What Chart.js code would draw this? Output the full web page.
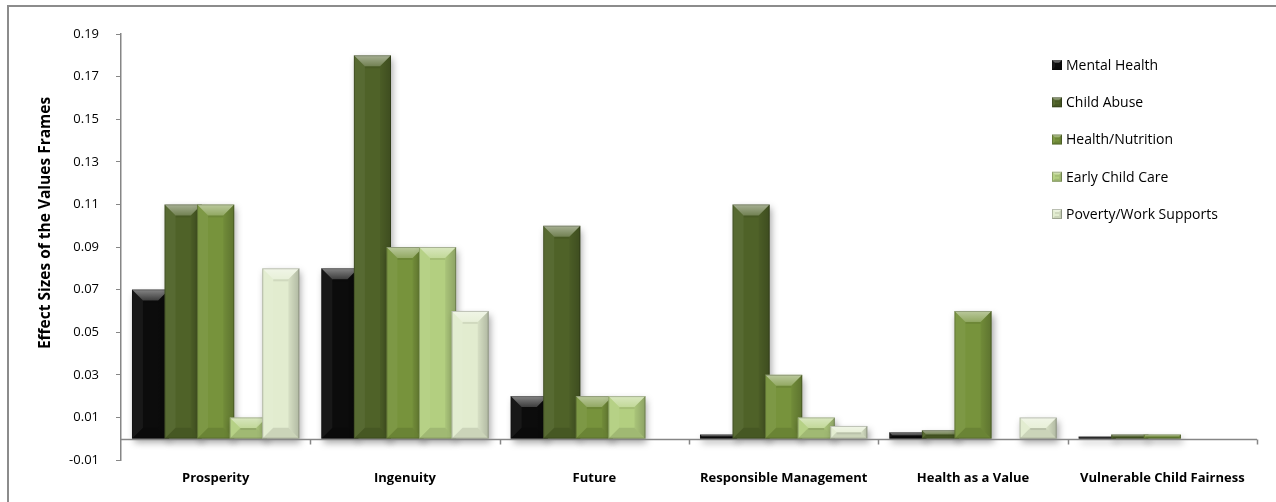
<!DOCTYPE html>
<html>
<head>
<meta charset="utf-8">
<title>Effect Sizes of the Values Frames</title>
<script src="https://cdn.jsdelivr.net/npm/chart.js@4/dist/chart.umd.min.js"></script>
<style>
  html,body{margin:0;padding:0;background:#fff}
  #c{display:block}
</style>
</head>
<body>
<canvas id="c" width="1276" height="502"></canvas>
<script>
// frames along the x axis
const categories = ['Prosperity','Ingenuity','Future','Responsible Management','Health as a Value','Vulnerable Child Fairness'];

// effect size per issue, one value per frame (null = no bar)
const mentalHealth    = [0.07, 0.08, 0.02, 0.002, 0.003, 0.001];
const childAbuse      = [0.11, 0.18, 0.10, 0.11, 0.004, 0.002];
const healthNutrition = [0.11, 0.09, 0.02, 0.03, 0.06, 0.002];
const earlyChildCare  = [0.01, 0.09, 0.02, 0.01, null, null];
const povertyWork     = [0.08, 0.06, null, 0.006, 0.01, null];

const seriesNames = ['Mental Health','Child Abuse','Health/Nutrition','Early Child Care','Poverty/Work Supports'];
const seriesData  = [mentalHealth, childAbuse, healthNutrition, earlyChildCare, povertyWork];
const seriesColors = ['#0c0c0c','#4f6228','#77933c','#b3cf80','#e2eccf'];

const yTicks = [-0.01, 0.01, 0.03, 0.05, 0.07, 0.09, 0.11, 0.13, 0.15, 0.17, 0.19];

const FONT = '"Open Sans", Lato, sans-serif';
Chart.defaults.font.family = FONT;
Chart.defaults.color = '#000';

// bevelled face on a rectangle: light top slant, darker sides/bottom
function bevel(ctx, l, t, r, b, size){
  const w = r - l, h = b - t;
  const s = Math.max(0, Math.min(size, w/3, h/2));
  if (s <= 0) return;
  ctx.save();
  let g = ctx.createLinearGradient(0, t, 0, t + s);
  g.addColorStop(0, 'rgba(255,255,255,0.5)');
  g.addColorStop(1, 'rgba(255,255,255,0.2)');
  ctx.fillStyle = g;
  ctx.beginPath();
  ctx.moveTo(l, t); ctx.lineTo(r, t); ctx.lineTo(r - s, t + s); ctx.lineTo(l + s, t + s); ctx.closePath();
  ctx.fill();
  // shade line under the top slant
  ctx.fillStyle = 'rgba(0,0,0,0.08)';
  ctx.fillRect(l + s, t + s, w - 2*s, 2);
  ctx.fillStyle = 'rgba(255,255,255,0.05)';
  ctx.beginPath();
  ctx.moveTo(l, t); ctx.lineTo(l + s, t + s); ctx.lineTo(l + s, b - s); ctx.lineTo(l, b); ctx.closePath();
  ctx.fill();
  g = ctx.createLinearGradient(r - s, 0, r, 0);
  g.addColorStop(0, 'rgba(0,0,0,0.05)');
  g.addColorStop(1, 'rgba(0,0,0,0.22)');
  ctx.fillStyle = g;
  ctx.beginPath();
  ctx.moveTo(r, t); ctx.lineTo(r - s, t + s); ctx.lineTo(r - s, b - s); ctx.lineTo(r, b); ctx.closePath();
  ctx.fill();
  ctx.fillStyle = 'rgba(0,0,0,0.1)';
  ctx.beginPath();
  ctx.moveTo(l, b); ctx.lineTo(r, b); ctx.lineTo(r - s, b - s); ctx.lineTo(l + s, b - s); ctx.closePath();
  ctx.fill();
  ctx.strokeStyle = 'rgba(0,0,0,0.22)';
  ctx.lineWidth = 1;
  ctx.strokeRect(l + 0.5, t + 0.5, w - 1, h - 1);
  ctx.restore();
}

const decor = {
  id: 'decor',
  beforeDraw(chart){
    // outer chart border (continues past the right and bottom edges)
    const ctx = chart.ctx;
    ctx.save();
    ctx.strokeStyle = '#8c8c8c';
    ctx.lineWidth = 2;
    ctx.strokeRect(8, 6, 1300, 560);
    ctx.restore();
  },
  beforeDatasetsDraw(chart){
    // draw series left to right so each later series sits on top
    const ctx = chart.ctx;
    chart.data.datasets.forEach((ds, i) => {
      chart.getDatasetMeta(i).data.forEach((bar, j) => {
        if (ds.data[j] == null) return;
        ctx.save();
        ctx.shadowColor = 'rgba(0,0,0,0.35)';
        ctx.shadowBlur = 7;
        ctx.shadowOffsetX = 2;
        ctx.shadowOffsetY = 4;
        bar.draw(ctx);
        ctx.restore();
        const p = bar.getProps(['x','y','base','width'], true);
        const l = p.x - p.width/2, r = p.x + p.width/2;
        const t = Math.min(p.y, p.base), b = Math.max(p.y, p.base);
        bevel(ctx, l, t, r, b, 11);
      });
    });
    return false;
  },
  afterDraw(chart){
    const ctx = chart.ctx;
    // horizontal axis crossing at zero, with category tick marks
    const x = chart.scales.x, y = chart.scales.y;
    const y0 = Math.round(y.getPixelForValue(0)) + 0.5;
    ctx.save();
    ctx.strokeStyle = '#868686';
    ctx.lineWidth = 1.5;
    ctx.beginPath();
    ctx.moveTo(x.left, y0); ctx.lineTo(x.right, y0);
    for (let k = 1; k <= categories.length; k++){
      const px = Math.round(x.left + (x.right - x.left) * k / categories.length) + 0.5;
      ctx.moveTo(px, y0); ctx.lineTo(px, y0 + 5);
    }
    ctx.stroke();
    ctx.restore();

    ctx.save();
    // legend inside the plot
    ctx.font = '14px ' + FONT;
    ctx.textBaseline = 'middle';
    seriesNames.forEach((name, i) => {
      const cy = 65 + i * 37.25;
      ctx.fillStyle = seriesColors[i];
      ctx.fillRect(1052, cy - 5, 10, 10);
      bevel(ctx, 1052, cy - 5, 1062, cy + 5, 3);
      ctx.fillStyle = '#000';
      ctx.fillText(name, 1066, cy + 1);
    });
    // value axis title
    ctx.translate(46, 223);
    ctx.rotate(-Math.PI / 2);
    ctx.font = 'bold 15.5px ' + FONT;
    ctx.textAlign = 'center';
    ctx.textBaseline = 'middle';
    ctx.fillStyle = '#000';
    ctx.fillText('Effect Sizes of the Values Frames', 0, 0);
    ctx.restore();
  }
};

new Chart(document.getElementById('c'), {
  type: 'bar',
  data: {
    labels: categories,
    datasets: seriesNames.map((name, i) => ({
      label: name,
      data: seriesData[i],
      backgroundColor: seriesColors[i],
      borderWidth: 0,
      categoryPercentage: 0.86,
      barPercentage: 1.14
    }))
  },
  options: {
    responsive: false,
    animation: false,
    layout: { padding: { left: 0, top: 34, right: 19, bottom: 0 } },
    plugins: { legend: { display: false }, tooltip: { enabled: false } },
    scales: {
      x: {
        grid: { display: false },
        border: { display: false },
        ticks: { padding: 2, maxRotation: 0, autoSkip: false, font: { size: 13, weight: 'bold' }, color: '#000' },
        afterFit(s){ s.height = 42; }
      },
      y: {
        min: -0.01,
        max: 0.19,
        afterBuildTicks(s){ s.ticks = yTicks.map(v => ({ value: v })); },
        grid: { color: 'transparent', tickColor: '#868686', tickLength: 5, drawTicks: true },
        border: { display: true, color: '#868686', width: 1.5 },
        ticks: { padding: 17, font: { size: 13 }, color: '#000', callback: v => Number(v).toFixed(2) },
        afterFit(s){ s.width = 121; }
      }
    }
  },
  plugins: [decor]
});
</script>
</body>
</html>
